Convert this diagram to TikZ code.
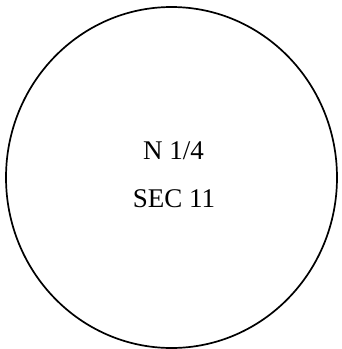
\documentclass[tikz,border=0pt]{standalone}
\usepackage{fontspec}
\setmainfont{Liberation Serif}
\begin{document}
\begin{tikzpicture}[x=1pt,y=-1pt,
  lbl/.style={font=\fontsize{27}{30}\selectfont, inner sep=0pt, anchor=base}]
\useasboundingbox (0,0) rectangle (342,349);
\draw[line width=1.7pt] (171.5,177.5) ellipse [x radius=165.5, y radius=170.5];
\node[lbl] (t1) at (173.5,159) {N 1/4};
\node[lbl] (t2) at (174,207) {SEC 11};
\end{tikzpicture}
\end{document}
